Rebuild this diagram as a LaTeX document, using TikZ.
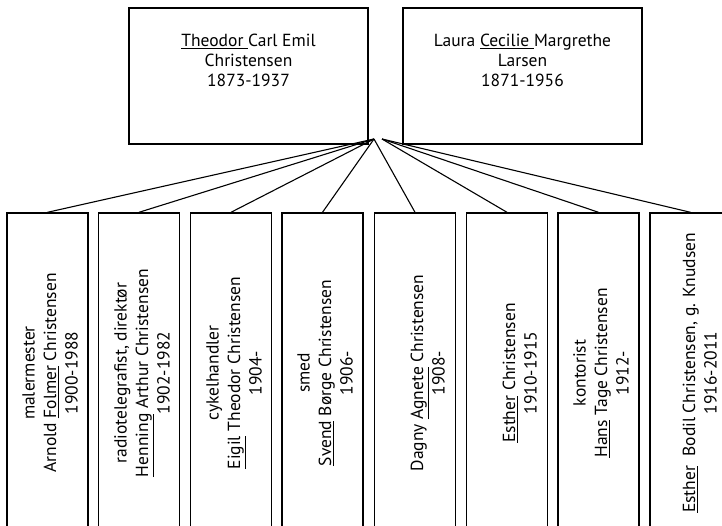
\documentclass[tikz,border=0pt]{standalone}
\usepackage{fontspec}
\setmainfont{PT Sans}
\begin{document}
\begin{tikzpicture}[x=1pt,y=-1pt,
  parentbox/.style={draw, line width=1.4pt, inner sep=0pt, minimum width=239pt, minimum height=136pt},
  kidbox/.style={draw, line width=1.4pt, rotate=90, inner sep=0pt, minimum width=320pt, minimum height=81pt},
  ptxt/.style={align=center, inner sep=0pt, anchor=north, font=\fontsize{17.5}{20}\selectfont},
  ktxt/.style={align=center, inner sep=0pt, rotate=90, anchor=south, font=\fontsize{17.5}{21.5}\selectfont},
  link/.style={line width=1.1pt}]
\useasboundingbox (0,0) rectangle (722,526);
% parents
\node[parentbox] (p1) at (248.5,76) {};
\node[parentbox] (p2) at (522.5,76) {};
\node[ptxt] (t1) at (248.5,34) {\underline{Theodor\ }Carl Emil\\Christensen\\1873-1937};
\node[ptxt] (t2) at (522.5,34) {Laura \underline{Cecilie\ }Margrethe\\Larsen\\1871-1956};
% children boxes
\node[kidbox] (c1) at (47.5,373) {};
\node[kidbox] (c2) at (139,373) {};
\node[kidbox] (c3) at (231,373) {};
\node[kidbox] (c4) at (322.5,373) {};
\node[kidbox] (c5) at (415,373) {};
\node[kidbox] (c6) at (507,373) {};
\node[kidbox] (c7) at (598.5,373) {};
\node[kidbox] (c8) at (690.5,373) {};
% children texts
\node[ktxt] (k1) at (78,373) {malermester\\Arnold \underline{Folmer} Christensen\\1900-1988};
\node[ktxt] (k2) at (170,373) {radiotelegrafist, direktør\\\underline{Henning} Arthur Christensen\\1902-1982};
\node[ktxt] (k3) at (262,373) {cykelhandler\\\underline{Eigil} Theodor Christensen\\1904-};
\node[ktxt] (k4) at (353,373) {smed\\\underline{Svend} Børge Christensen\\1906-};
\node[ktxt] (k5) at (445,373) {Dagny \underline{Agnete} Christensen\\1908-};
\node[ktxt] (k6) at (537,373) {\underline{Esther} Christensen\\1910-1915};
\node[ktxt] (k7) at (629,373) {kontorist\\\underline{Hans} Tage Christensen\\1912-};
\node[ktxt] (k8) at (717,373) {\underline{Esther}\ \ Bodil Christensen, g. Knudsen\\1916-2011};
% connectors
\coordinate (jL) at (374,139);
\coordinate (jR) at (382,139);
\draw[link] (jL) -- (c1.east);
\draw[link] (jL) -- (c2.east);
\draw[link] (jL) -- (c3.east);
\draw[link] (jL) -- (c4.east);
\draw[link] (jL) -- (c5.east);
\draw[link] (jR) -- (c6.east);
\draw[link] (jR) -- (c7.east);
\draw[link] (jR) -- (c8.east);
\end{tikzpicture}
\end{document}
